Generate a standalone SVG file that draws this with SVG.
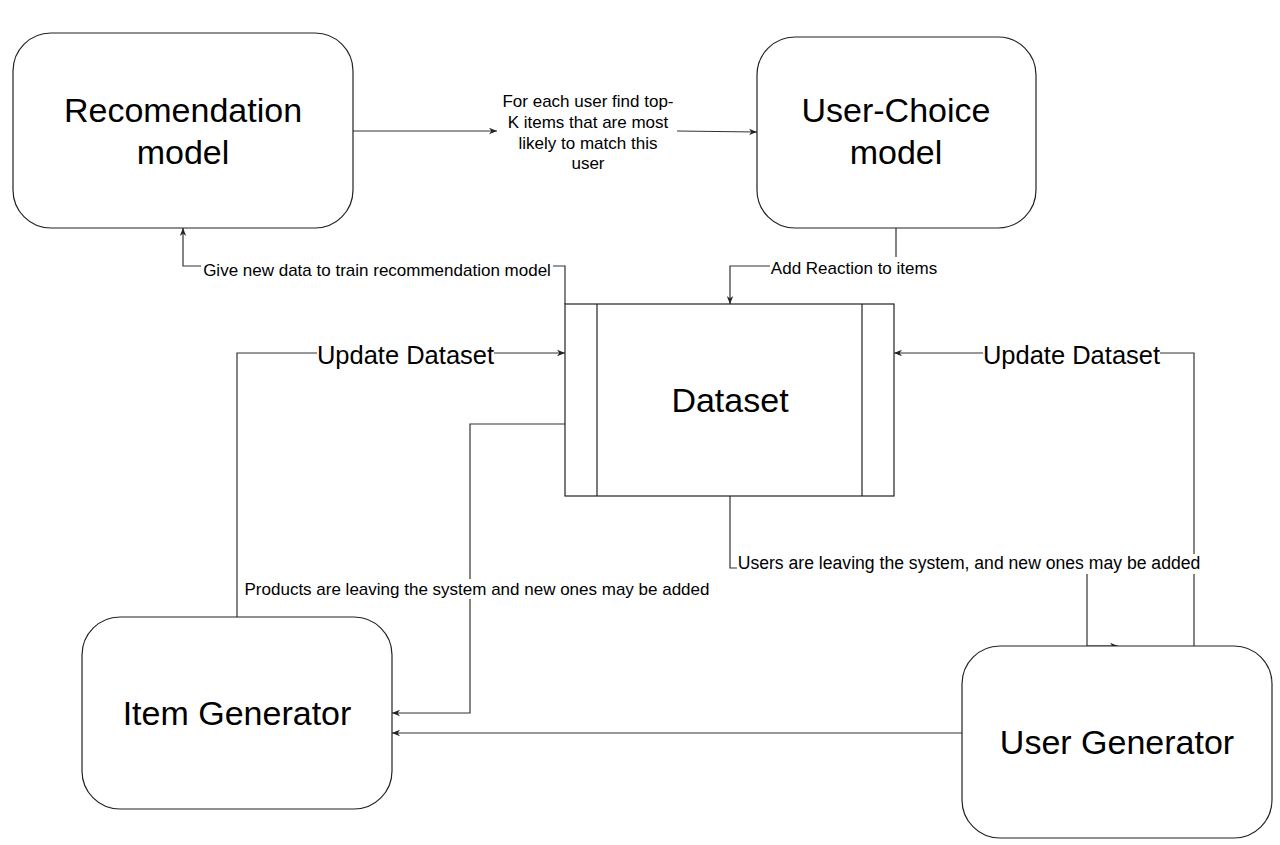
<svg xmlns="http://www.w3.org/2000/svg" width="1280" height="845" viewBox="0 0 1280 845">
<style>
.box{fill:#fff;stroke:#222;stroke-width:1.2}
.big{font-family:"Liberation Sans",Arial,Helvetica,sans-serif;font-size:34px;fill:#000;text-anchor:middle}
.lbl{font-family:"Liberation Sans",Arial,Helvetica,sans-serif;font-size:17px;fill:#000;text-anchor:middle}
.lbl2{font-family:"Liberation Sans",Arial,Helvetica,sans-serif;font-size:25.5px;fill:#000;text-anchor:middle}
.edge{fill:none;stroke:#333;stroke-width:1.2}
.bg{fill:#fff;stroke:none}
</style>
<defs>
<marker id="arr" viewBox="0 0 10 10" refX="10" refY="5" markerWidth="8" markerHeight="8" markerUnits="userSpaceOnUse" orient="auto">
<path d="M0,1 L10,5 L0,9 L3,5 z" fill="#222"/>
</marker>
</defs>
<rect width="1280" height="845" fill="#fff"/>

<g id="connectors">
<path class="edge" d="M353,131 L497,131" marker-end="url(#arr)"/>
<path class="edge" d="M677,131 L757,132" marker-end="url(#arr)"/>
<path class="edge" d="M565,304 L565,266 L183,266 L183,228" marker-end="url(#arr)"/>
<path class="edge" d="M896,228 L896,266 L730,266 L730,304" marker-end="url(#arr)"/>
<path class="edge" d="M237,617 L237,353 L565,353" marker-end="url(#arr)"/>
<path class="edge" d="M1194,646 L1194,353 L894,353" marker-end="url(#arr)"/>
<path class="edge" d="M565,424 L470,424 L470,713 L392,713" marker-end="url(#arr)"/>
<path class="edge" d="M730,496 L730,568 L1087,568 L1087,646 L1118,646" marker-end="url(#arr)"/>
<path class="edge" d="M962,733 L392,733" marker-end="url(#arr)"/>

<g id="label-topk">
<text class="lbl" x="588" y="107">For each user find top-</text>
<text class="lbl" x="588" y="128">K items that are most</text>
<text class="lbl" x="588" y="149">likely to match this</text>
<text class="lbl" x="588" y="169">user</text>
</g>
<g id="label-give">
<rect class="bg" x="201" y="257" width="352" height="20"/>
<text class="lbl" x="377" y="276">Give new data to train recommendation model</text>
</g>
<g id="label-add">
<rect class="bg" x="770" y="257" width="168" height="20"/>
<text class="lbl" x="854" y="274">Add Reaction to items</text>
</g>
<g id="label-upd-left">
<rect class="bg" x="317" y="341" width="177" height="26"/>
<text class="lbl2" x="405.5" y="364">Update Dataset</text>
</g>
<g id="label-upd-right">
<rect class="bg" x="983" y="341" width="177" height="26"/>
<text class="lbl2" x="1071.5" y="364">Update Dataset</text>
</g>
<g id="label-products">
<rect class="bg" x="243" y="579" width="468" height="20"/>
<text class="lbl" x="477" y="595">Products are leaving the system and new ones may be added</text>
</g>
<g id="label-users">
<rect class="bg" x="737" y="554" width="464" height="20"/>
<text class="lbl" x="969" y="569" style="font-size:17.6px">Users are leaving the system, and new ones may be added</text>
</g>
</g>

<g id="rec-model">
<rect class="box" x="13" y="33" width="340" height="195" rx="38" ry="38"/>
<text class="big" x="183" y="122">Recomendation</text>
<text class="big" x="183" y="164">model</text>
</g>
<g id="user-choice">
<rect class="box" x="757" y="37" width="279" height="191" rx="38" ry="38"/>
<text class="big" x="896" y="122">User-Choice</text>
<text class="big" x="896" y="164">model</text>
</g>
<g id="dataset">
<rect class="box" x="565" y="304" width="329" height="192"/>
<line class="box" x1="597" y1="304" x2="597" y2="496"/>
<line class="box" x1="862" y1="304" x2="862" y2="496"/>
<text class="big" x="730" y="412">Dataset</text>
</g>
<g id="item-generator">
<rect class="box" x="82" y="617" width="310" height="192" rx="38" ry="38"/>
<text class="big" x="237" y="725">Item Generator</text>
</g>
<g id="user-generator">
<rect class="box" x="962" y="646" width="310" height="192" rx="38" ry="38"/>
<text class="big" x="1117" y="754">User Generator</text>
</g>
</svg>
